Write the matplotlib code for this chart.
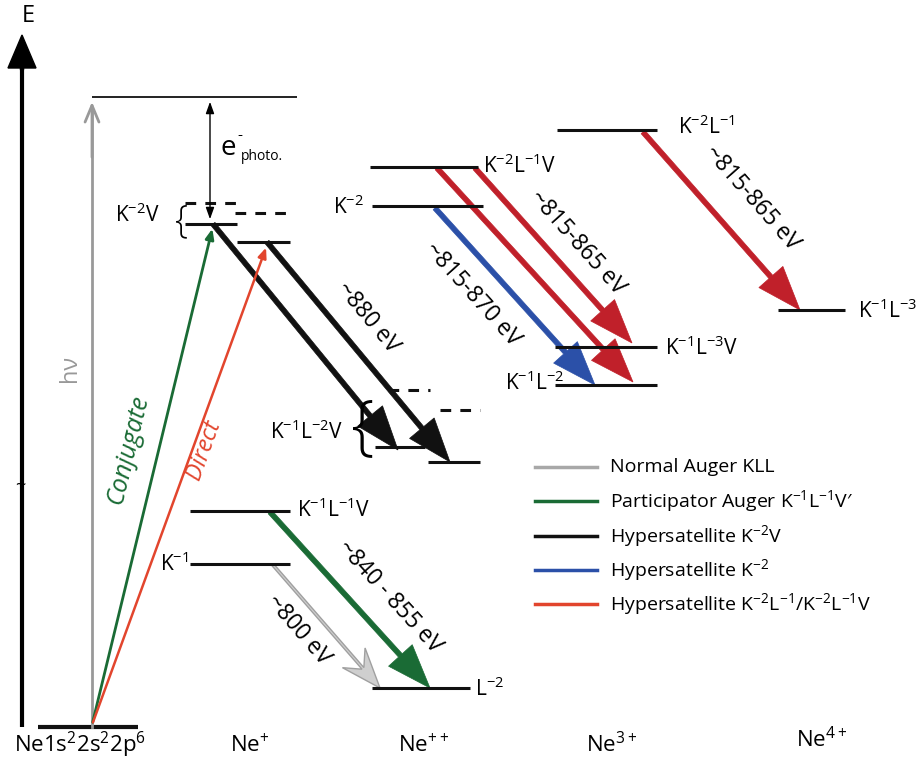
import numpy as np
import matplotlib.pyplot as plt

plt.rcParams['font.family'] = ['Open Sans', 'DejaVu Sans']
plt.rcParams['mathtext.fontset'] = 'custom'
plt.rcParams['mathtext.rm'] = 'Open Sans'
plt.rcParams['mathtext.it'] = 'Open Sans:italic'

# energy levels (diagram units, y grows downwards): x0, x1, y
level_names = ['ground', 'top', 'K2V_a', 'K2V_b', 'K2', 'K2L1V', 'K2L1',
               'K1L2V_a', 'K1L2V_b', 'K1L3V', 'K1L2', 'K1L3', 'K1L1V', 'K1', 'L2']
level_x0 = [38, 92, 185, 237, 372, 370, 557, 375, 428, 555, 555, 778, 190, 190, 372]
level_x1 = [138, 297, 237, 290, 483, 478, 657, 425, 480, 657, 657, 845, 290, 290, 470]
level_y = [727, 97, 224, 242, 206, 167, 130, 447, 462, 347, 385, 310, 511, 564, 688]
level_lw = [3, 1.3, 2.2, 2.2, 2.2, 2.2, 2.2, 2.2, 2.2, 2.2, 2.2, 2.2, 2.2, 2.2, 2.2]

# dashed (unresolved) levels: x0, x1, y
dash_x0 = [185, 235, 388, 440]
dash_x1 = [240, 290, 430, 480]
dash_y = [203, 213, 390, 410]

# level labels
label_text = ['K$^{\\mathregular{-2}}$V', 'K$^{\\mathregular{-2}}$', 'K$^{\\mathregular{-2}}$L$^{\\mathregular{-1}}$V',
              'K$^{\\mathregular{-2}}$L$^{\\mathregular{-1}}$', 'K$^{\\mathregular{-1}}$L$^{\\mathregular{-3}}$V',
              'K$^{\\mathregular{-1}}$L$^{\\mathregular{-2}}$', 'K$^{\\mathregular{-1}}$L$^{\\mathregular{-3}}$',
              'K$^{\\mathregular{-1}}$L$^{\\mathregular{-2}}$V', 'K$^{\\mathregular{-1}}$L$^{\\mathregular{-1}}$V',
              'K$^{\\mathregular{-1}}$', 'L$^{\\mathregular{-2}}$']
label_x = [115, 333, 483, 678, 665, 505, 858, 270, 297, 160, 475]
label_y = [215, 207, 166, 127, 348, 383, 311, 432, 510, 564, 689]

# transitions: x0, y0, x1, y1, colour, energy label and label centre
tr_x0 = [213, 267, 435, 437, 475, 643, 270, 273]
tr_y0 = [224, 242, 208, 168, 168, 132, 512, 565]
tr_x1 = [398, 450, 595, 633, 632, 800, 430, 380]
tr_y1 = [450, 462, 385, 382, 343, 310, 688, 688]
tr_col = ['#111111', '#111111', '#2b50a8', '#c0202a', '#c0202a', '#c0202a', '#1a6b35', '#a8a8a8']
tr_lbl = ['', '~880 eV', '~815-870 eV', '', '~815-865 eV', '~815-865 eV', '~840 - 855 eV', '~800 eV']
tr_lbl_x = [0, 368, 472, 0, 577, 752, 390, 298]
tr_lbl_y = [0, 318, 295, 0, 243, 198, 597, 630]

# legend
leg_labels = ['Normal Auger KLL', 'Participator Auger K$^{\\mathregular{-1}}$L$^{\\mathregular{-1}}$V\u2032',
              'Hypersatellite K$^{\\mathregular{-2}}$V', 'Hypersatellite K$^{\\mathregular{-2}}$',
              'Hypersatellite K$^{\\mathregular{-2}}$L$^{\\mathregular{-1}}$/K$^{\\mathregular{-2}}$L$^{\\mathregular{-1}}$V']
leg_colors = ['#a8a8a8', '#1a6b35', '#111111', '#2b50a8', '#e2452d']

# charge states along the bottom
ion_labels = ['Ne1s$^{\\mathregular{2}}$2s$^{\\mathregular{2}}$2p$^{\\mathregular{6}}$', 'Ne$^{\\mathregular{+}}$',
              'Ne$^{\\mathregular{++}}$', 'Ne$^{\\mathregular{3+}}$', 'Ne$^{\\mathregular{4+}}$']
ion_x = [80, 250, 424, 612, 822]
ion_y = [745, 745, 745, 745, 740]

fig = plt.figure(figsize=(9.18, 7.62), dpi=100)
ax = fig.add_axes([0, 0, 1, 1])
ax.set_xlim(0, 918)
ax.set_ylim(762, 0)
ax.axis('off')

# energy axis
ax.plot([22, 22], [727, 60], color='black', lw=3, solid_capstyle='butt')
ax.arrow(22, 70, 0, -35, width=3, head_width=28, head_length=33, length_includes_head=True,
         fc='black', ec='black')
ax.text(28, 16, 'E', fontsize=17, ha='center', va='center')
ax.text(20, 486, '~', fontsize=13, ha='center', va='center')

for x0, x1, y, lw in zip(level_x0, level_x1, level_y, level_lw):
    ax.plot([x0, x1], [y, y], color='#111111', lw=lw, solid_capstyle='butt')
for x0, x1, y in zip(dash_x0, dash_x1, dash_y):
    ax.plot([x0, x1], [y, y], color='#111111', lw=2.2, ls=(0, (3.5, 3)))

for t, x, y in zip(label_text, label_x, label_y):
    ax.text(x, y, t, fontsize=15, ha='left', va='center')

# braces
ax.text(181, 222, '{', fontsize=27, ha='center', va='center', fontweight='light')
ax.text(363, 430, '{', fontsize=48, ha='center', va='center', fontweight='light')

# photon absorption (hv)
ax.plot([92, 92], [727, 110], color='#999999', lw=2)
ax.annotate('', xy=(92, 99), xytext=(92, 160),
            arrowprops=dict(arrowstyle='->,head_length=1.2,head_width=0.5', color='#999999', lw=2))
ax.text(70, 368, 'h\u03bd', fontsize=17, color='#999999', rotation=90, ha='center', va='center')

# photoelectron
ax.annotate('', xy=(210, 99), xytext=(210, 222),
            arrowprops=dict(arrowstyle='<|-|>,head_length=0.7,head_width=0.25', color='black', lw=1))
ax.text(220, 148, 'e', fontsize=20, ha='left', va='center')
ax.text(237, 135, '-', fontsize=11, ha='left', va='center')
ax.text(241, 157, 'photo.', fontsize=10, ha='left', va='center')

# conjugate / direct excitation
ax.annotate('', xy=(213, 226), xytext=(92, 725),
            arrowprops=dict(arrowstyle='-|>,head_length=0.6,head_width=0.25', color='#1a6b35', lw=2))
ax.annotate('', xy=(267, 245), xytext=(92, 725),
            arrowprops=dict(arrowstyle='-|>,head_length=0.6,head_width=0.25', color='#e2452d', lw=1.8))
ang_c = np.degrees(np.arctan2(725 - 226, 213 - 92))
ang_d = np.degrees(np.arctan2(725 - 245, 267 - 92))
ax.text(128, 450, 'Conjugate', fontsize=18, color='#1a6b35', style='italic', rotation=ang_c,
        rotation_mode='anchor', ha='center', va='center')
ax.text(204, 450, 'Direct', fontsize=17, color='#e2452d', style='italic', rotation=ang_d,
        rotation_mode='anchor', ha='center', va='center')

# Auger / hypersatellite transitions
for x0, y0, x1, y1, c, lbl, lx, ly in zip(tr_x0, tr_y0, tr_x1, tr_y1, tr_col, tr_lbl, tr_lbl_x, tr_lbl_y):
    dx, dy = x1 - x0, y1 - y0
    if c == '#a8a8a8':
        ax.arrow(x0, y0, dx, dy, width=2.5, head_width=30, head_length=40, overhang=0.35,
                 length_includes_head=True, fc='#cfcfcf', ec='#a0a0a0', lw=1)
    else:
        ax.arrow(x0, y0, dx, dy, width=5, head_width=32, head_length=44,
                 length_includes_head=True, fc=c, ec=c, lw=0.5)
    if lbl:
        ang = -np.degrees(np.arctan2(dy, dx))
        ax.text(lx, ly, lbl, fontsize=16.5, rotation=ang,
                rotation_mode='anchor', ha='center', va='center')

# legend drawn by hand
for i, (lab, c) in enumerate(zip(leg_labels, leg_colors)):
    y = 467 + i * 34.3
    ax.plot([535, 597], [y, y], color=c, lw=2.5)
    ax.text(610, y, lab, fontsize=14, ha='left', va='center')

for t, x, y in zip(ion_labels, ion_x, ion_y):
    ax.text(x, y, t, fontsize=16, ha='center', va='center')

fig.savefig('out.png', dpi=100)
